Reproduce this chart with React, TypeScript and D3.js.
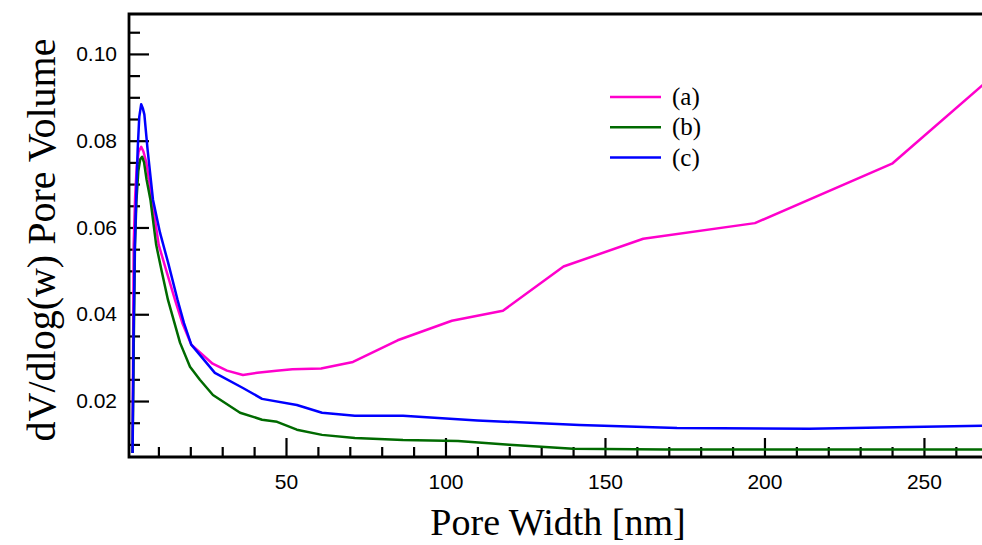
import React, { useEffect, useRef } from 'react'
import * as d3 from 'd3'

// pore width [nm] and dV/dlog(w) for each sample
const widthA = [1.9, 2.25, 2.7, 3.2, 3.8, 4.6, 5.3, 6.2, 8, 10.1, 12.5, 15.2, 17.5, 20.3, 27, 31.5, 36.5, 41, 47, 52, 61, 71, 85, 102, 118, 137, 162, 197, 240, 268.5]
const volA = [0.008, 0.056, 0.067, 0.074, 0.0775, 0.0786, 0.0775, 0.075, 0.0664, 0.056, 0.05, 0.0433, 0.038, 0.033, 0.0286, 0.027, 0.026, 0.0265, 0.027, 0.0273, 0.0275, 0.029, 0.034, 0.0385, 0.0408, 0.051, 0.0574, 0.061, 0.0747, 0.0929]

const widthB = [1.9, 2.3, 2.65, 3.1, 3.7, 4.3, 4.9, 5.5, 6.3, 7.5, 9.3, 11, 13, 16.8, 19.9, 23, 27.1, 35.6, 42.5, 47.2, 53.4, 61.3, 71.6, 86.7, 103.9, 120, 140, 169, 268.5]
const volB = [0.008, 0.035, 0.056, 0.066, 0.073, 0.0757, 0.0763, 0.075, 0.071, 0.0664, 0.056, 0.05, 0.0433, 0.0334, 0.0279, 0.0249, 0.0214, 0.0173, 0.0157, 0.0152, 0.0134, 0.0122, 0.0115, 0.011, 0.0108, 0.0099, 0.009, 0.0088, 0.0088]

const widthC = [1.9, 2.2, 2.6, 3, 3.5, 4, 4.6, 5.1, 5.6, 6.6, 8.3, 10.5, 13, 16, 18, 20.3, 27.7, 36.5, 42.5, 53.4, 61.3, 71.6, 86.7, 110, 142, 172.6, 214, 268.5]
const volC = [0.008, 0.035, 0.055, 0.066, 0.078, 0.0855, 0.0884, 0.0875, 0.086, 0.078, 0.0664, 0.0588, 0.052, 0.0433, 0.038, 0.033, 0.0265, 0.023, 0.0205, 0.0191, 0.0173, 0.0166, 0.0166, 0.0155, 0.0145, 0.0138, 0.0136, 0.0143]

const seriesNames = ['(a)', '(b)', '(c)']
const seriesColors = ['#ff00cc', '#006a00', '#0000ff']

const xMajorTicks = [50, 100, 150, 200, 250]
const yMajorTicks = [0.02, 0.04, 0.06, 0.08, 0.1]

const sansFont = "'Liberation Sans', Arimo, Arial, sans-serif"
const serifFont = "'Liberation Serif', 'Times New Roman', Times, serif"

function App() {
    const svgRef = useRef<SVGSVGElement>(null)

    useEffect(() => {
        const width = 982
        const height = 545
        const left = 129
        const right = 982
        const top = 14
        const bottom = 457

        const svg = d3.select(svgRef.current)
        svg.selectAll('*').remove()
        svg.attr('width', width).attr('height', height)

        const xScale = d3.scaleLinear().domain([0.78, 268.2]).range([left, right])
        const yScale = d3.scaleLinear().domain([0.0071, 0.1092]).range([bottom, top])

        svg.append('clipPath').attr('id', 'plot-clip')
            .append('rect')
            .attr('x', left).attr('y', top)
            .attr('width', right - left).attr('height', bottom - top)

        // x axis: minor then major ticks, pointing inward
        const xMinor = d3.range(10, 270, 10).filter((v) => v % 50 !== 0)
        svg.append('g')
            .attr('transform', `translate(0, ${bottom})`)
            .call(d3.axisBottom(xScale).tickValues(xMinor).tickSize(-10).tickSizeOuter(0).tickFormat(() => ''))
            .call((g) => g.select('.domain').remove())
            .call((g) => g.selectAll('line').attr('stroke-width', 2.2))

        svg.append('g')
            .attr('transform', `translate(0, ${bottom})`)
            .call(d3.axisBottom(xScale).tickValues(xMajorTicks).tickSize(-19).tickSizeOuter(0).tickPadding(17).tickFormat(d3.format('d')))
            .call((g) => g.select('.domain').remove())
            .call((g) => g.selectAll('line').attr('stroke-width', 2.2))
            .call((g) => g.selectAll('text')
                .style('font-family', sansFont)
                .style('font-size', '21px')
                .attr('fill', '#000'))

        // y axis
        const yMinor = d3.range(0.01, 0.106, 0.005).filter((v) => Math.abs(v * 50 - Math.round(v * 50)) > 1e-6)
        svg.append('g')
            .attr('transform', `translate(${left}, 0)`)
            .call(d3.axisLeft(yScale).tickValues(yMinor).tickSize(-11).tickSizeOuter(0).tickFormat(() => ''))
            .call((g) => g.select('.domain').remove())
            .call((g) => g.selectAll('line').attr('stroke-width', 2.2))

        svg.append('g')
            .attr('transform', `translate(${left}, 0)`)
            .call(d3.axisLeft(yScale).tickValues(yMajorTicks).tickSize(-20).tickSizeOuter(0).tickPadding(12).tickFormat(d3.format('.2f')))
            .call((g) => g.select('.domain').remove())
            .call((g) => g.selectAll('line').attr('stroke-width', 2.2))
            .call((g) => g.selectAll('text')
                .style('font-family', sansFont)
                .style('font-size', '21px')
                .attr('fill', '#000'))

        // frame
        svg.append('path')
            .attr('d', `M${right},${top}H${left}V${bottom}H${right}`)
            .attr('fill', 'none')
            .attr('stroke', '#000')
            .attr('stroke-width', 2.8)

        const line = d3.line<[number, number]>()
            .x((d) => xScale(d[0]))
            .y((d) => yScale(d[1]))

        const series: [number, number][][] = [
            widthA.map((w, i) => [w, volA[i]]),
            widthB.map((w, i) => [w, volB[i]]),
            widthC.map((w, i) => [w, volC[i]]),
        ]

        svg.append('g')
            .attr('clip-path', 'url(#plot-clip)')
            .selectAll('path')
            .data(series)
            .join('path')
            .attr('d', (d) => line(d))
            .attr('fill', 'none')
            .attr('stroke', (d, i) => seriesColors[i])
            .attr('stroke-width', 2.5)
            .attr('stroke-linejoin', 'round')

        // legend
        const legend = svg.append('g').attr('transform', 'translate(610, 97)')
        seriesNames.forEach((name, i) => {
            legend.append('line')
                .attr('x1', 0).attr('x2', 51)
                .attr('y1', i * 30.3).attr('y2', i * 30.3)
                .attr('stroke', seriesColors[i])
                .attr('stroke-width', 2.5)
            legend.append('text')
                .attr('x', 62).attr('y', i * 30.3 + 8)
                .style('font-family', serifFont)
                .style('font-size', '25px')
                .text(name)
        })

        // axis titles
        svg.append('text')
            .attr('x', 558).attr('y', 535)
            .attr('text-anchor', 'middle')
            .style('font-family', serifFont)
            .style('font-size', '38px')
            .text('Pore Width [nm]')

        svg.append('text')
            .attr('transform', 'translate(55, 240) rotate(-90)')
            .attr('text-anchor', 'middle')
            .style('font-family', serifFont)
            .style('font-size', '40px')
            .text('dV/dlog(w) Pore Volume')
    }, [])

    return (
        <svg ref={svgRef} style={{ position: 'fixed', left: 0, top: 0, background: '#fff' }}></svg>
    )
}

export default App
